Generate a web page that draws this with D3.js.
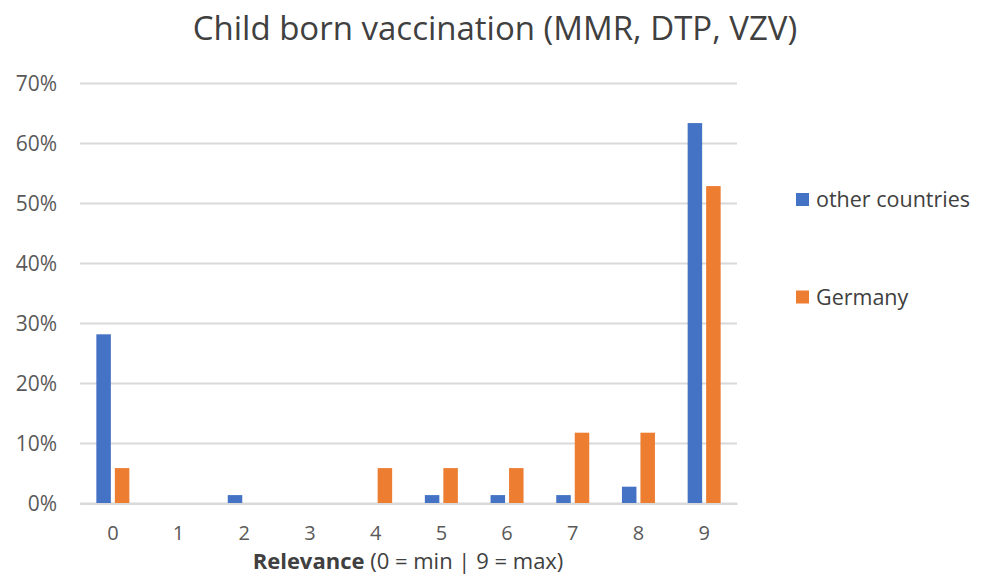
<!DOCTYPE html>
<html>
<head>
<meta charset="utf-8">
<script src="https://cdn.jsdelivr.net/npm/d3@7"></script>
<style>
  body { margin: 0; background: #fff; }
  text { font-family: "Open Sans", "Noto Sans", sans-serif; }
</style>
</head>
<body>
<div id="chart"></div>
<script>
var categories = ["0", "1", "2", "3", "4", "5", "6", "7", "8", "9"];
var otherCountries = [28.2, 0, 1.4, 0, 0, 1.4, 1.4, 1.4, 2.8, 63.4];
var germany = [5.9, 0, 0, 0, 5.9, 5.9, 5.9, 11.8, 11.8, 52.9];
var seriesNames = ["other countries", "Germany"];
var yTicks = [0, 10, 20, 30, 40, 50, 60, 70];

function drawChart() {
    const width = 987;
    const height = 576;
    const left = 80, right = 737, top = 83.5, bottom = 503.5;
    const colors = ["#4472C4", "#ED7D31"];

    var svg = d3.select("#chart")
        .append("svg")
        .attr("width", width)
        .attr("height", height);

    const xScale = d3.scaleBand()
        .domain(categories)
        .range([left, right]);

    const yScale = d3.scaleLinear()
        .domain([0, 70])
        .range([bottom, top]);

    // gridlines
    svg.append("g")
        .selectAll("line")
        .data(yTicks)
        .enter()
        .append("line")
        .attr("x1", left)
        .attr("x2", right)
        .attr("y1", (d) => yScale(d))
        .attr("y2", (d) => yScale(d))
        .attr("stroke", "#d9d9d9")
        .attr("stroke-width", 2);

    // y tick labels
    svg.append("g")
        .selectAll("text")
        .data(yTicks)
        .enter()
        .append("text")
        .attr("x", 57)
        .attr("y", (d) => yScale(d))
        .attr("dy", "0.35em")
        .attr("text-anchor", "end")
        .attr("font-size", 21)
        .attr("fill", "#595959")
        .text((d) => d + "%");

    // bars
    const barW = 14.5, gap = 4;
    const series = [otherCountries, germany];
    series.forEach(function(values, si) {
        svg.append("g")
            .selectAll("rect")
            .data(values)
            .enter()
            .append("rect")
            .attr("x", (d, i) => xScale(categories[i]) + xScale.bandwidth() / 2 + (si === 0 ? -(gap / 2 + barW) : gap / 2))
            .attr("y", (d) => yScale(d))
            .attr("width", barW)
            .attr("height", (d) => yScale(0) - yScale(d))
            .attr("fill", colors[si]);
    });

    // x axis
    const xAxis = d3.axisBottom(xScale).tickSize(0).tickPadding(0);
    var gx = svg.append("g")
        .attr("transform", "translate(0," + bottom + ")")
        .call(xAxis);
    gx.select(".domain").attr("stroke", "#d9d9d9").attr("stroke-width", 2);
    gx.selectAll("text")
        .attr("y", 36.5)
        .attr("dy", "0")
        .attr("font-size", 20)
        .attr("fill", "#595959")
        .style("font-family", "\"Open Sans\", \"Noto Sans\", sans-serif");

    // axis title
    var xt = svg.append("text")
        .attr("x", 408)
        .attr("y", 569)
        .attr("text-anchor", "middle")
        .attr("font-size", 22)
        .attr("fill", "#404040");
    xt.append("tspan").attr("font-weight", "bold").text("Relevance");
    xt.append("tspan").text(" (0 = min | 9 = max)");

    // title
    svg.append("text")
        .attr("x", 495)
        .attr("y", 40)
        .attr("text-anchor", "middle")
        .attr("font-size", 33)
        .attr("fill", "#404040")
        .text("Child born vaccination (MMR, DTP, VZV)");

    // legend
    var legend = svg.append("g")
        .selectAll("g")
        .data(seriesNames)
        .enter()
        .append("g")
        .attr("transform", (d, i) => "translate(796," + (193 + i * 97.5) + ")");
    legend.append("rect")
        .attr("width", 13)
        .attr("height", 13)
        .attr("fill", (d, i) => colors[i]);
    legend.append("text")
        .attr("x", 20)
        .attr("y", 6.5)
        .attr("dy", "0.35em")
        .attr("font-size", 21.5)
        .attr("fill", "#404040")
        .text((d) => d);
}

drawChart();
</script>
</body>
</html>
